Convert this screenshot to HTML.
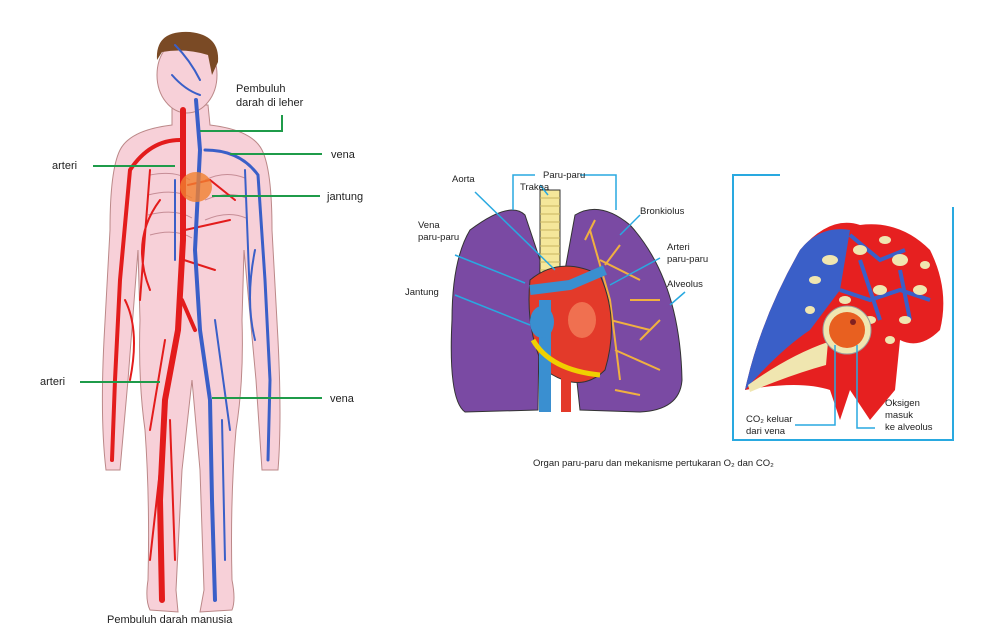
<!DOCTYPE html>
<html><head><style>
body{margin:0;background:#fff;width:1007px;height:637px;overflow:hidden;font-family:"Liberation Sans",sans-serif}
svg{position:absolute;left:0;top:0}
text{font-family:"Liberation Sans",sans-serif;fill:#222}
</style></head><body>
<svg width="1007" height="637" viewBox="0 0 1007 637">
<!-- body -->
<g stroke="#b88" stroke-width="1" fill="#f7d0d8">
<path d="M172,105 L172,125 Q130,130 120,150 Q110,170 110,230 L104,340 Q100,420 106,470 L120,470 L128,380 L138,250 L140,320 Q138,380 145,430 Q150,500 148,580 Q145,600 150,610 L178,612 L176,590 L182,470 L192,380 L200,470 L204,590 L200,612 L232,610 Q236,600 232,580 Q230,500 236,430 Q244,380 242,320 L244,250 L256,380 L262,470 L278,470 Q282,420 278,340 L272,230 Q272,170 262,150 Q252,130 210,125 L208,105 Z"/>
<ellipse cx="187" cy="75" rx="30" ry="38"/>
</g>
<path d="M157,60 Q155,30 190,32 Q220,35 218,62 L212,75 L208,55 Q185,48 162,52 Z" fill="#7a4a25"/>
<g stroke="#b0707a" stroke-width="1" fill="none" opacity=".7">
<path d="M150,175 Q175,170 190,180 M148,195 Q175,188 192,198 M148,215 Q175,208 192,218 M150,235 Q175,228 192,238 M205,180 Q225,170 245,178 M205,200 Q228,190 246,198 M205,220 Q228,210 246,218"/>
</g>
<!-- arteries -->
<g stroke="#e31c1c" fill="none" stroke-linecap="round">
<path d="M183,110 L183,240 L178,330 L165,400 L160,500 L162,600" stroke-width="6"/>
<path d="M182,300 L195,330" stroke-width="4"/>
<path d="M180,140 Q150,140 130,170 L120,280 L115,380 L112,460" stroke-width="4"/>
<path d="M150,170 L140,300 M160,200 Q130,240 150,290 M165,340 L150,430 M170,420 L175,560 M125,300 Q140,330 130,380 M160,470 L150,560" stroke-width="2"/>
<path d="M188,185 L210,180 L235,200 M185,230 L230,220 M184,260 L215,270" stroke-width="2"/>
</g>
<!-- veins -->
<g stroke="#3a5fc8" fill="none" stroke-linecap="round">
<path d="M196,100 L200,150 L195,250 L200,330 L210,400 L212,500 L215,600" stroke-width="4"/>
<path d="M205,150 Q240,150 258,175 L265,280 L270,380 L268,460" stroke-width="3"/>
<path d="M175,180 L175,260 M200,80 Q190,60 175,45 M215,320 L230,430 M222,420 L225,560 M245,170 L250,300 M255,250 Q245,300 255,340 M200,95 Q185,90 172,75" stroke-width="2"/>
</g>
<ellipse cx="196" cy="187" rx="16" ry="15" fill="#f08030" opacity=".8"/>
<!-- labels left -->
<g stroke="#1f9b4a" stroke-width="2" fill="none">
<path d="M200,131 L282,131 L282,115"/>
<path d="M93,166 L175,166"/>
<path d="M230,154 L322,154"/>
<path d="M212,196 L320,196"/>
<path d="M80,382 L160,382"/>
<path d="M212,398 L322,398"/>
</g>
<g font-size="11">
<text x="236" y="92">Pembuluh</text><text x="236" y="106">darah di leher</text>
<text x="52" y="169">arteri</text>
<text x="331" y="158">vena</text>
<text x="327" y="200">jantung</text>
<text x="40" y="385">arteri</text>
<text x="330" y="402">vena</text>
<text x="107" y="623">Pembuluh darah manusia</text>
</g>
<!-- lungs -->
<g stroke="#333" stroke-width="1">
<path d="M470,230 Q510,200 525,215 L540,260 L538,410 L465,412 Q448,400 452,320 Q452,260 470,230 Z" fill="#7a4aa3"/>
<path d="M575,215 Q600,200 630,225 Q680,280 682,380 Q680,410 640,412 L580,410 L565,270 Z" fill="#7a4aa3"/>
<rect x="540" y="190" width="20" height="90" fill="#f5e79a"/>
</g>
<g stroke="#c9b560" stroke-width="1">
<path d="M540,198h20M540,206h20M540,214h20M540,222h20M540,230h20M540,238h20M540,246h20M540,254h20M540,262h20M540,270h20"/>
</g>
<g stroke="#f0b040" stroke-width="2" fill="none">
<path d="M590,230 L610,300 L620,380 M600,260 L640,280 M610,320 L650,330 M615,350 L660,370 M585,240 L595,220 M630,300 L660,300 M620,245 L605,265 M640,340 L660,320 M615,390 L640,395"/>
</g>
<path d="M530,280 Q560,255 600,275 Q620,320 605,370 Q580,395 545,370 Q525,330 530,280 Z" fill="#e33a2a" stroke="#333"/>
<rect x="539" y="300" width="12" height="112" fill="#3a8fd0"/>
<rect x="561" y="360" width="10" height="52" fill="#e33a2a"/>
<path d="M530,290 L570,285 L605,270" stroke="#3a8fd0" stroke-width="10" fill="none"/>
<ellipse cx="542" cy="322" rx="12" ry="16" fill="#3a8fd0"/>
<ellipse cx="582" cy="320" rx="14" ry="18" fill="#f07050"/>
<path d="M533,340 Q550,370 600,375" stroke="#f0d000" stroke-width="5" fill="none"/>
<g stroke="#29a9e0" stroke-width="1.5" fill="none">
<path d="M513,210 L513,175 L535,175 M580,175 L616,175 L616,210"/>
<path d="M475,192 L555,270"/>
<path d="M455,255 L525,283"/>
<path d="M455,295 L530,325"/>
<path d="M620,235 L640,215"/>
<path d="M610,285 L660,258"/>
<path d="M670,305 L685,292"/>
<path d="M548,195 L540,185"/>
</g>
<g font-size="9.5">
<text x="543" y="178">Paru-paru</text>
<text x="520" y="190">Trakea</text>
<text x="452" y="182">Aorta</text>
<text x="418" y="228">Vena</text><text x="418" y="240">paru-paru</text>
<text x="405" y="295">Jantung</text>
<text x="640" y="214">Bronkiolus</text>
<text x="667" y="250">Arteri</text><text x="667" y="262">paru-paru</text>
<text x="667" y="287">Alveolus</text>
<text x="533" y="466">Organ paru-paru dan mekanisme pertukaran  O₂ dan CO₂</text>
</g>
<!-- right panel -->
<g stroke="#29a9e0" stroke-width="2" fill="none">
<path d="M780,175 L733,175 L733,440 L953,440 L953,207"/>
</g>
<path d="M745,390 Q760,320 800,250 Q830,215 860,225 Q900,220 930,250 Q950,290 940,330 Q920,350 900,340 L895,390 L870,420 L850,390 L840,420 L830,390 Q800,380 745,390 Z" fill="#e62020"/>
<path d="M745,390 Q760,320 800,250 Q820,225 850,230 L840,290 L810,330 Q780,350 745,390 Z" fill="#3a5fc8"/>
<g stroke="#3a5fc8" stroke-width="4" fill="none">
<path d="M850,235 L880,260 L905,250 M840,290 L870,300 L900,290 L930,300 M860,260 L880,320 M900,270 L910,320"/>
</g>
<g fill="#f0e6b0">
<ellipse cx="830" cy="260" rx="8" ry="5"/><ellipse cx="860" cy="250" rx="7" ry="5"/><ellipse cx="900" cy="260" rx="8" ry="6"/>
<ellipse cx="880" cy="290" rx="7" ry="5"/><ellipse cx="920" cy="290" rx="7" ry="5"/><ellipse cx="845" cy="300" rx="6" ry="4"/>
<ellipse cx="905" cy="320" rx="6" ry="4"/><ellipse cx="870" cy="320" rx="6" ry="4"/>
<ellipse cx="815" cy="280" rx="6" ry="4"/><ellipse cx="885" cy="240" rx="6" ry="4"/><ellipse cx="925" cy="265" rx="5" ry="4"/>
<ellipse cx="810" cy="310" rx="5" ry="4"/><ellipse cx="890" cy="340" rx="5" ry="4"/>
<path d="M748,385 Q790,355 828,342 L826,365 Q790,375 750,392 Z"/>
</g>
<circle cx="847" cy="330" r="24" fill="#f0e6b0" stroke="#999"/>
<circle cx="847" cy="330" r="18" fill="#e86020"/>
<circle cx="853" cy="322" r="3" fill="#802020"/>
<g stroke="#29a9e0" stroke-width="1.5" fill="none">
<path d="M795,425 L835,425 L835,345 M857,345 L857,428 L875,428"/>
</g>
<g font-size="9.5">
<text x="746" y="422">CO₂ keluar</text><text x="746" y="434">dari vena</text>
<text x="885" y="406">Oksigen</text><text x="885" y="418">masuk</text><text x="885" y="430">ke alveolus</text>
</g>
</svg>
</body></html>
